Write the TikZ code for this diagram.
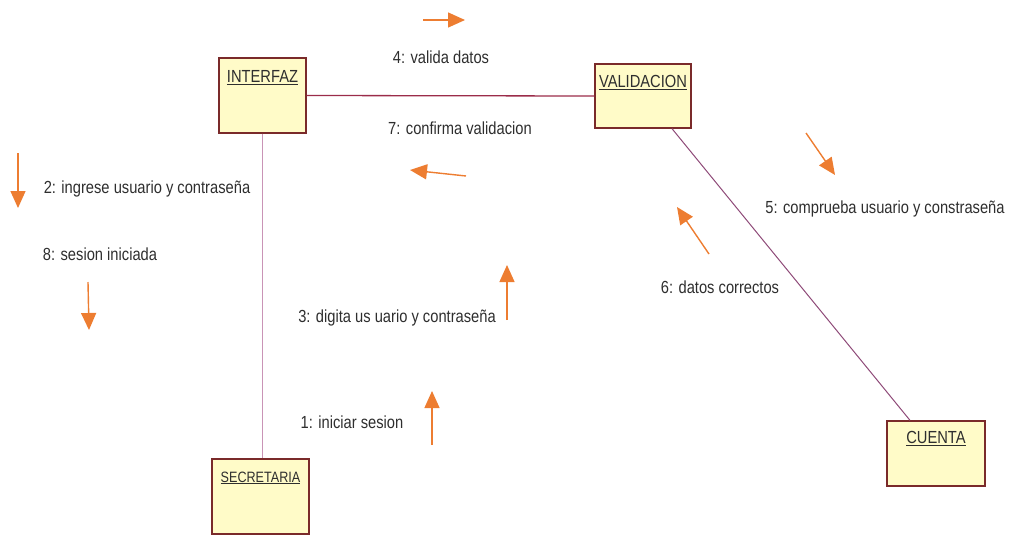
\documentclass[tikz,border=0pt]{standalone}
\usepackage{fontspec}
\setmainfont{Liberation Sans}[FakeStretch=0.84]
\usetikzlibrary{arrows.meta}
\definecolor{boxfill}{HTML}{FFFBC8}
\definecolor{boxline}{HTML}{7A2A2A}
\definecolor{msgorange}{HTML}{ED7D31}
\definecolor{txt}{HTML}{2E2E2E}
\definecolor{linkA}{HTML}{9B2C4A}
\definecolor{linkB}{HTML}{C994B6}
\definecolor{linkC}{HTML}{8E4A78}
\tikzset{
  obj/.style={draw=boxline, fill=boxfill, line width=1.3pt, inner sep=0pt},
  objname/.style={anchor=north, inner sep=0pt, font=\fontsize{17.5}{20}\selectfont, text=txt},
  msg/.style={font=\fontsize{17.5}{20}\selectfont, text=txt, inner sep=0pt},
  flow/.style={draw=msgorange, line width=1.4pt, -{Triangle[length=17pt,width=15pt]}},
}
\begin{document}
\begin{tikzpicture}[x=1pt,y=-1pt]
\useasboundingbox (0,0) rectangle (1016,536);

% objects
\node[obj, minimum width=87pt, minimum height=75pt] (interfaz) at (262.5,95.5) {};
\node[obj, minimum width=96pt, minimum height=64pt] (validacion) at (643,96) {};
\node[obj, minimum width=97pt, minimum height=75pt] (secretaria) at (260.5,496.5) {};
\node[obj, minimum width=98pt, minimum height=65pt] (cuenta) at (936,453.5) {};

\node[objname] (interfazname) at ([yshift=-13pt]interfaz.north) {\underline{INTERFAZ}};
\node[objname] (validacionname) at ([yshift=-12pt]validacion.north) {\underline{VALIDACION}};
\node[objname] (secretarianame) at ([yshift=-13pt]secretaria.north) {\fontsize{15}{17}\selectfont\underline{SECRETARIA}};
\node[objname] (cuentaname) at ([yshift=-11pt]cuenta.north) {\underline{CUENTA}};

% links
\draw[linkA, line width=1.3pt] (interfaz.east) -- (validacion.west);
\draw[linkB, line width=1.6pt] (interfaz.south) -- (interfaz.south |- secretaria.north);
\draw[linkC, line width=1pt] ([xshift=29pt]validacion.south) -- ([xshift=-26pt]cuenta.north);

% messages
\node[msg] (m4) at (441,57) {4: valida datos};
\node[msg] (m7) at (460,128) {7: confirma validacion};
\node[msg] (m2) at (147,189) {2: ingrese usuario y contraseña};
\node[msg] (m8) at (100,254) {8: sesion iniciada};
\node[msg] (m3) at (397,318) {3: digita us uario y contraseña};
\node[msg] (m1) at (352,422) {1: iniciar sesion};
\node[msg] (m5) at (885,209) {5: comprueba usuario y constraseña};
\node[msg] (m6) at (720,287) {6: datos correctos};

% message directions
\draw[flow] (423,20) -- (465,20);
\draw[flow] (466,176) -- (410,170);
\draw[flow] (18,153) -- (18,208);
\draw[flow] (88,282) -- (89,330);
\draw[flow] (507,320) -- (507,265);
\draw[flow] (432,445) -- (432,391);
\draw[flow] (806,133) -- (835,175);
\draw[flow] (709,254) -- (677,207);
\end{tikzpicture}
\end{document}
